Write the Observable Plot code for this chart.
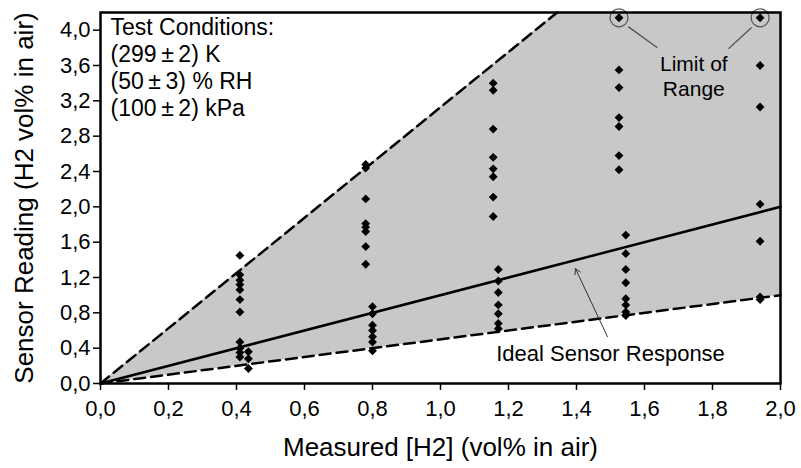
<!DOCTYPE html>
<html>
<head>
<meta charset="utf-8">
<script src="https://cdn.jsdelivr.net/npm/d3@7"></script>
<script src="https://cdn.jsdelivr.net/npm/@observablehq/plot@0.6"></script>
<style>
  html, body { margin: 0; padding: 0; background: #fff; }
  #chart { width: 801px; height: 468px; }
</style>
</head>
<body>
<div id="chart"></div>
<script>
// Axis ticks
const xTicks = [0, 0.2, 0.4, 0.6, 0.8, 1.0, 1.2, 1.4, 1.6, 1.8, 2.0];
const yTicks = [0, 0.4, 0.8, 1.2, 1.6, 2.0, 2.4, 2.8, 3.2, 3.6, 4.0];

// Measured concentration of each group of sensor readings (vol% H2 in air)
const measured = [0.41, 0.435, 0.78, 0.80, 1.155, 1.17, 1.525, 1.545, 1.94];
// Sensor readings for each measured concentration (vol% H2 in air)
const readings = [
  [1.45, 1.23, 1.17, 1.12, 1.06, 0.95, 0.81, 0.47, 0.40, 0.35, 0.30],
  [0.36, 0.28, 0.17],
  [2.48, 2.44, 2.09, 1.81, 1.77, 1.72, 1.55, 1.35],
  [0.87, 0.79, 0.66, 0.60, 0.53, 0.47, 0.37],
  [3.40, 3.32, 2.88, 2.56, 2.43, 2.34, 2.11, 1.89],
  [1.29, 1.16, 1.03, 0.89, 0.79, 0.68, 0.62],
  [4.14, 3.55, 3.35, 3.01, 2.91, 2.58, 2.42],
  [1.68, 1.47, 1.29, 1.14, 0.96, 0.89, 0.81, 0.77],
  [4.14, 3.60, 3.13, 2.03, 1.61, 0.98, 0.95]
];

// Readings at the top of the sensor range
const limitX = [1.525, 1.94];
const limitY = [4.14, 4.14];

// Acceptance band: lower and upper bounds
const bandX = [0, 1.343, 2.0];
const bandLow = [0, 0.6715, 1.0];
const bandHigh = [0, 4.2, 4.2];
const upperX = [0, 1.343];
const upperY = [0, 4.2];
const lowerX = [0, 2.0];
const lowerY = [0, 1.0];
const idealX = [0, 2.0];
const idealY = [0, 2.0];

const fmt = d => d.toFixed(1).replace(".", ",");

const points = measured.flatMap((m, i) => readings[i].map(r => ({x: m, y: r})));
const band = bandX.map((x, i) => ({x, lo: bandLow[i], hi: bandHigh[i]}));
const limits = limitX.map((x, i) => ({x, y: limitY[i]}));

const chart = Plot.plot({
  width: 801,
  height: 468,
  marginLeft: 100,
  marginRight: 21,
  marginTop: 12,
  marginBottom: 85,
  x: {domain: [0, 2]},
  y: {domain: [0, 4.2]},
  style: {fontFamily: "'Liberation Sans', Arial, sans-serif", background: "#fff", color: "#000"},
  marks: [
    Plot.areaY(band, {x: "x", y1: "lo", y2: "hi", fill: "#c8c8c8", curve: "linear"}),
    Plot.line(upperX.map((x, i) => ({x, y: upperY[i]})), {x: "x", y: "y", stroke: "#000", strokeWidth: 2.5, strokeDasharray: "11,6"}),
    Plot.line(lowerX.map((x, i) => ({x, y: lowerY[i]})), {x: "x", y: "y", stroke: "#000", strokeWidth: 2.5, strokeDasharray: "11,6"}),
    Plot.line(idealX.map((x, i) => ({x, y: idealY[i]})), {x: "x", y: "y", stroke: "#000", strokeWidth: 2.5}),
    Plot.dot(points, {x: "x", y: "y", symbol: "diamond2", r: 4, fill: "#000", stroke: "none"}),
    Plot.dot(limits, {x: "x", y: "y", r: 9, fill: "none", stroke: "#555", strokeWidth: 1.3}),
    Plot.link([{x1: 1.552, y1: 4.04, x2: 1.638, y2: 3.80}, {x1: 1.915, y1: 4.03, x2: 1.847, y2: 3.79}],
      {x1: "x1", y1: "y1", x2: "x2", y2: "y2", stroke: "#555", strokeWidth: 1.3}),
    Plot.text(["Limit of\nRange"], {x: 1.745, y: 3.49, fontSize: 21, lineHeight: 1.19, fill: "#000"}),
    Plot.arrow([{x1: 1.491, y1: 0.53, x2: 1.397, y2: 1.30}],
      {x1: "x1", y1: "y1", x2: "x2", y2: "y2", stroke: "#333", strokeWidth: 1, headLength: 9}),
    Plot.text(["Ideal Sensor Response"], {x: 1.5, y: 0.34, fontSize: 22, fill: "#000"}),
    Plot.text(["Test Conditions:\n(299\u2009±\u20092) K\n(50\u2009±\u20093) % RH\n(100\u2009±\u20092) kPa"],
      {frameAnchor: "top-left", dx: 10, dy: 3, lineAnchor: "top", textAnchor: "start", fontSize: 23, lineHeight: 1.18, fill: "#000"}),
    Plot.frame({stroke: "#000", strokeWidth: 2.5}),
    Plot.axisX({ticks: xTicks, tickFormat: fmt, tickSize: 7, tickPadding: 10, fontSize: 22, label: null, strokeWidth: 1.5}),
    Plot.axisY({ticks: yTicks, tickFormat: fmt, tickSize: 7, tickPadding: 3, fontSize: 22, label: null, strokeWidth: 1.5}),
    Plot.text(["Measured [H2] (vol% in air)"], {frameAnchor: "bottom", dy: 64, lineAnchor: "middle", textAnchor: "middle", fontSize: 26, fill: "#000"}),
    Plot.text(["Sensor Reading (H2 vol% in air)"], {frameAnchor: "left", dx: -76, rotate: -90, lineAnchor: "middle", textAnchor: "middle", fontSize: 26, fill: "#000"})
  ]
});

document.getElementById("chart").appendChild(chart);
</script>
</body>
</html>
